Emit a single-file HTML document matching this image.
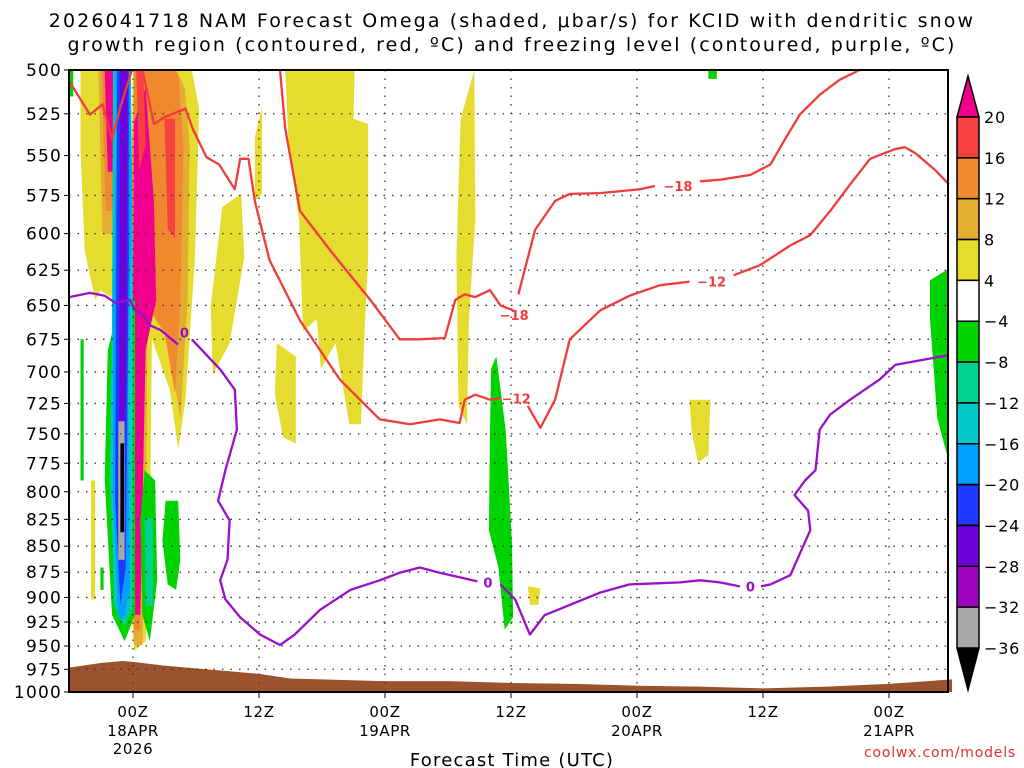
<!DOCTYPE html>
<html><head><meta charset="utf-8"><style>
html,body{margin:0;padding:0;background:#fff;}
svg{display:block;font-family:"DejaVu Sans","Liberation Sans",sans-serif;}
</style></head><body>
<svg id="chart" width="1024" height="768" viewBox="0 0 1024 768" xmlns="http://www.w3.org/2000/svg">
<text x="512" y="27" text-anchor="middle" font-size="19" letter-spacing="2.1" fill="#000">2026041718 NAM Forecast Omega (shaded, μbar/s) for KCID with dendritic snow</text>
<text x="512" y="51" text-anchor="middle" font-size="19" letter-spacing="2.1" fill="#000">growth region (contoured, red, ºC) and freezing level (contoured, purple, ºC)</text>
<g id="shade"></g>
<g id="terrain"></g>
<g id="grid"></g>
<g id="lines"></g>
<rect x="69" y="70" width="879" height="622" fill="none" stroke="#000" stroke-width="2"/>
<g id="yaxis"></g>
<g id="xaxis"></g>
<text x="512" y="766" text-anchor="middle" font-size="18" letter-spacing="1.2">Forecast Time (UTC)</text>
<text x="1016" y="757" text-anchor="end" font-size="14" letter-spacing="0.8" fill="#e03030">coolwx.com/models</text>
<g id="cbar"></g>
</svg>
<script>
const pTicks=[500,525,550,575,600,625,650,675,700,725,750,775,800,825,850,875,900,925,950,975,1000];
const tHours=[0,12,24,36,48,60,72];
const tLab1=["00Z","12Z","00Z","12Z","00Z","12Z","00Z"];
const tLab2=["18APR","","19APR","","20APR","","21APR"];
const tLab3=["2026","","","","","",""];
const cbLevels=["20","16","12","8","4","-4","-8","-12","-16","-20","-24","-28","-32","-36"];
const cbColors=["#f74040","#f08830","#e4ac30","#e6dc30","#ffffff","#00d400","#00d090","#00c8c8","#00a0ff","#2038ff","#7000d8","#a000c0","#a8a8a8"];
const sfcHours=[-6,-3,-1,0,3,6,9,12,15,18,24,30,36,42,48,54,60,66,72,78];
const sfcP=[973,968,966,967,971,974,977,980,985,986,988,988,990,991,993,994,996,994,991,986];
// contour lines [hour, hPa]
const redA1=[[-6,507],[-4.1,525.5],[-2.9,519.5],[-2,540],[-1.2,521],[-0.1,500]];
const redA2=[[0.9,500],[2,531],[3,527],[5,522],[5.7,534],[7,551],[8.2,555.5],[9.7,571],[10.2,552],[11,552],[11.6,578.5],[13,618],[15.9,661],[19.7,706],[23.5,738],[26.4,742],[29.2,738],[31.1,741],[31.6,722],[32.6,718],[34,722],[35,721]];
const redA3=[[37.6,727],[38.8,745],[40.2,722],[41.6,675],[44.5,653.5],[47.3,643],[50.2,635.5],[53,633]];
const redA4=[[57.2,628.5],[59.7,621.5],[62.6,608],[64.5,601],[66.4,585],[68.3,568],[70.2,552],[72.6,546],[73.5,545],[74.5,548.5],[76.4,559],[77.7,568]];
const redB1=[[14,500],[14.5,534],[15.9,585],[18.8,611.5],[22.6,646],[25.4,675],[27.3,675],[29.7,674],[30.7,646],[31.6,642],[32.6,644],[34,639],[35,650],[36.2,653.5]];
const redB2=[[36.7,642],[37.3,625],[38.3,597.5],[40.2,578.5],[41.6,574],[44.5,573.5],[48.3,571],[49.7,569]];
const redB3=[[54,566],[55.9,565],[58.8,562],[60.7,555.5],[62.1,540],[63.5,525.5],[65.4,514],[67.3,505.5],[69.2,500]];
const purp1=[[-6.1,644],[-4.1,641],[-2.7,643],[-1.7,648],[-0.3,646],[0.2,653.5],[1,657],[1.6,664.5],[2.6,668],[3.7,675],[4.3,679]];
const purp2=[[5.6,675],[6.9,686],[8.3,698],[9.7,714],[9.9,746.5],[8.8,781],[8.1,808],[9.2,826],[9,863],[8.3,883],[8.8,902],[10.2,920],[12.1,938],[14,949],[15.4,938],[17.8,912.6],[20.7,892.5],[23.5,883],[25.4,875.5],[27.3,870.5],[29.2,875.5],[31.1,880],[32.8,884]];
const purp3=[[35,887],[36.4,902],[37.8,938],[39.2,918],[41.6,907.5],[44.5,895],[47.3,887],[52.1,885],[54,883],[55.9,885],[57.8,889]];
const purp4=[[59.8,889],[60.7,887],[62.6,878],[64.5,835],[64.3,817],[63,803],[64,790],[65,781],[65.4,746.5],[66.4,734],[68.3,722],[71.1,706],[72.6,694.5],[75,691],[77.7,687]];
const labels=[[36.5,721,"-12","#f03c3c"],[55.1,633,"-12","#f03c3c"],[36.3,657,"-18","#f03c3c"],[51.9,569,"-18","#f03c3c"],[4.9,670,"0","#9a10c8"],[33.8,885,"0","#9a10c8"],[58.8,889,"0","#9a10c8"]];
// shaded omega regions [hour,hPa]
const shades=[
["#e6dc30",[[-5,500],[-0.8,500],[-0.5,611.5],[-1.7,646],[-3.1,639],[-3.6,646],[-4.6,611.5],[-5,546]]],
["#e4ac30",[[-3.3,500],[-1.2,500],[-1.3,600],[-2.9,600]]],
["#f08830",[[-3,500],[-1.4,500],[-1.5,585],[-2.6,585]]],
["#f0008c",[[-2.7,500],[-1.7,500],[-1.8,560],[-2.4,560]]],
["#e6dc30",[[0,500],[5.6,500],[6.3,522],[5.9,617],[5,722],[4.3,763],[3.5,714],[1.8,675],[1.6,863],[1.2,945],[0.1,955],[-0.5,863],[-0.3,646]]],
["#e4ac30",[[0.1,500],[4.8,500],[5.4,543],[5.2,646],[4.5,738],[3.3,675],[1.4,651],[1.2,835],[0.9,949],[0.1,949],[-0.2,722],[-0.2,577.5]]],
["#f08830",[[0.1,500],[4.3,500],[4.8,546],[4.5,646],[4,717],[3,670],[1.1,646],[0.9,807],[0.7,933],[0.1,933],[-0.1,722],[-0.1,577.5]]],
["#f0008c",[[0.1,530],[1.2,510],[2,580],[2.2,646],[1.2,683],[0.7,917.5],[0.2,917.5],[0,646]]],
["#f74040",[[3,528],[4,528],[4,603],[3.3,597]]],
["#f74040",[[0.3,500],[1,500],[1.2,543],[0.6,559]]],
["#00d400",[[-2.4,683],[-1.2,646],[0.2,646],[0.2,917.5],[-0.8,945],[-2,917.5],[-2.7,789]]],
["#00d090",[[-2.1,697.5],[-1.2,660],[0,660],[0,910],[-0.8,930],[-1.7,907.5],[-2.2,790]]],
["#00c8c8",[[-1.9,500],[-0.2,500],[0,615.5],[-0.2,907.5],[-0.8,925],[-1.8,907.5],[-2.1,790],[-2,650.5]]],
["#00a0ff",[[-1.7,500],[-0.3,500],[-0.1,577.5],[-0.5,722],[-0.3,890],[-0.8,921],[-1.4,921],[-1.9,807],[-1.9,646],[-1.6,546]]],
["#2038ff",[[-1.5,500],[-0.4,500],[-0.4,615.5],[-0.7,870.5],[-1.2,907.5],[-1.7,807],[-1.6,615.5]]],
["#7000d8",[[-1.2,500],[-0.5,500],[-0.6,646],[-0.9,846],[-1.3,824],[-1.3,646]]],
["#a8a8a8",[[-1.4,739.5],[-0.8,739.5],[-0.8,863],[-1.4,863]]],
["#000000",[[-1.2,758],[-0.85,758],[-0.85,837],[-1.2,837]]],
["#00d400",[[1.1,781],[2.1,790],[2.3,883],[1.6,945],[0.9,917.5],[0.7,826]]],
["#00d090",[[1.1,824],[1.9,824],[1.9,907.5],[1.2,910]]],
["#00d400",[[3.1,808],[4.3,808],[4.5,863],[4.1,892.5],[3.3,887],[2.8,845]]],
["#00d400",[[-5,675],[-4.7,675],[-4.7,790],[-5,790]]],
["#00d400",[[-6,500],[-5.7,500],[-5.7,515],[-6,515]]],
["#e6dc30",[[-4,790],[-3.6,790],[-3.6,902],[-4,902]]],
["#00d400",[[-3.1,870.5],[-2.8,870.5],[-2.8,892.5],[-3.1,892.5]]],
["#e6dc30",[[14.5,500],[21.1,500],[21,528],[22.4,531],[22.4,615.5],[22.1,660],[21.7,742],[20.6,742],[19.3,678],[17.9,697.5],[17.5,660],[16.2,669],[15.8,590.5],[14.8,543]]],
["#e6dc30",[[8.5,582.5],[10.3,574],[10.6,615.5],[9.2,678],[7.6,702],[7.4,650.5]]],
["#e6dc30",[[11.6,539],[12.3,521],[12.3,574],[11.6,578.5]]],
["#e6dc30",[[13.7,678],[15.5,688],[15.5,758],[14.3,753],[13.5,717]]],
["#e6dc30",[[4.1,500],[5.4,500],[5,511]]],
["#e6dc30",[[31.2,528],[32.5,500],[32.6,590.5],[32,660],[31.8,742],[31,727],[30.8,615.5]]],
["#e6dc30",[[53,722],[55,722],[54.8,768],[53.8,774],[53.2,747.7]]],
["#e6dc30",[[37.6,889],[38.8,891],[38.6,907.5],[37.8,907.5]]],
["#00d400",[[34.1,697.5],[34.6,688],[35.5,747.7],[36.1,847],[36.2,920],[35.4,933],[34.8,870.5],[33.9,835],[34,747.7]]],
["#00d400",[[75.9,632],[77.7,624],[77.7,774],[76.6,737],[75.9,660]]],
["#00d400",[[54.8,500],[55.6,500],[55.6,505],[54.8,505]]]
];
const NS="http://www.w3.org/2000/svg";
const LR=Math.log(1000/500);
const X=h=>133+h*10.5, Y=p=>70+Math.log(p/500)/LR*622;
function mk(tag,attrs,parent){const e=document.createElementNS(NS,tag);for(const k in attrs)e.setAttribute(k,attrs[k]);parent.appendChild(e);return e;}
const g=id=>document.getElementById(id);
const pts=a=>a.map(d=>X(d[0]).toFixed(1)+","+Y(d[1]).toFixed(1)).join(" ");
shades.forEach(s=>{const e=mk("polygon",{points:pts(s[1]),fill:s[0]},g("shade"));

});
let tp=sfcHours.map((h,i)=>X(h)+","+Y(sfcP[i])).join(" ");
tp+=" "+X(sfcHours[sfcHours.length-1])+","+Y(1000)+" "+X(sfcHours[0])+","+Y(1000);
const ter=mk("polygon",{points:tp,fill:"#9c522c"},g("terrain"));


pTicks.forEach(p=>{const y=Y(p);
if(p>500&&p<1000){const l=mk("line",{x1:69,x2:948,y1:y,y2:y,stroke:"#333","stroke-width":1.3,"stroke-dasharray":"1.5 7"},g("grid"));

}
const t=mk("text",{x:62,y:y+6,"text-anchor":"end","font-size":17,"letter-spacing":"1.2"},g("yaxis"));t.textContent=p;


const tk=mk("line",{x1:64,x2:69,y1:y,y2:y,stroke:"#000"},g("yaxis"));

});
tHours.forEach((h,i)=>{const x=X(h);
const l=mk("line",{x1:x,x2:x,y1:70,y2:692,stroke:"#333","stroke-width":1.3,"stroke-dasharray":"1.5 7"},g("grid"));


const tk=mk("line",{x1:x,x2:x,y1:692,y2:698,stroke:"#000"},g("xaxis"));


[[tLab1[i],717],[tLab2[i],736],[tLab3[i],754]].forEach(a=>{if(!a[0])return;
const t=mk("text",{x:x,y:a[1],"text-anchor":"middle","font-size":15,"letter-spacing":"0.6"},g("xaxis"));t.textContent=a[0];

});});
[[redA1,"#f03c3c"],[redA2,"#f03c3c"],[redA3,"#f03c3c"],[redA4,"#f03c3c"],[redB1,"#f03c3c"],[redB2,"#f03c3c"],[redB3,"#f03c3c"],[purp1,"#9a10c8"],[purp2,"#9a10c8"],[purp3,"#9a10c8"],[purp4,"#9a10c8"]].forEach(c=>{
const e=mk("polyline",{points:pts(c[0]),fill:"none",stroke:c[1],"stroke-width":2.3,"stroke-linejoin":"round"},g("lines"));

});
labels.forEach(l=>{const t=mk("text",{x:X(l[0]),y:Y(l[1])+5,"text-anchor":"middle","font-size":13,"font-weight":"bold",fill:l[3]},g("lines"));t.textContent=l[2].replace("-","−");

});
const cbTop=117,cbBot=648,bh=(cbBot-cbTop)/cbColors.length,cx0=957,cx1=979;
const tri1=mk("polygon",{points:`${cx0},${cbTop} ${cx1},${cbTop} ${(cx0+cx1)/2},76`,fill:"#f0008c",stroke:"#000","stroke-width":1.5},g("cbar"));


const tri2=mk("polygon",{points:`${cx0},${cbBot} ${cx1},${cbBot} ${(cx0+cx1)/2},690`,fill:"#000",stroke:"#000","stroke-width":1.5},g("cbar"));


cbColors.forEach((c,i)=>{const r=mk("rect",{x:cx0,y:cbTop+i*bh,width:cx1-cx0,height:bh,fill:c,stroke:"#000","stroke-width":1.5},g("cbar"));

});
cbLevels.forEach((v,i)=>{const t=mk("text",{x:984,y:cbTop+i*bh+6,"font-size":16,"letter-spacing":"0.8"},g("cbar"));t.textContent=v.replace("-","−");

});
</script>
</body></html>
